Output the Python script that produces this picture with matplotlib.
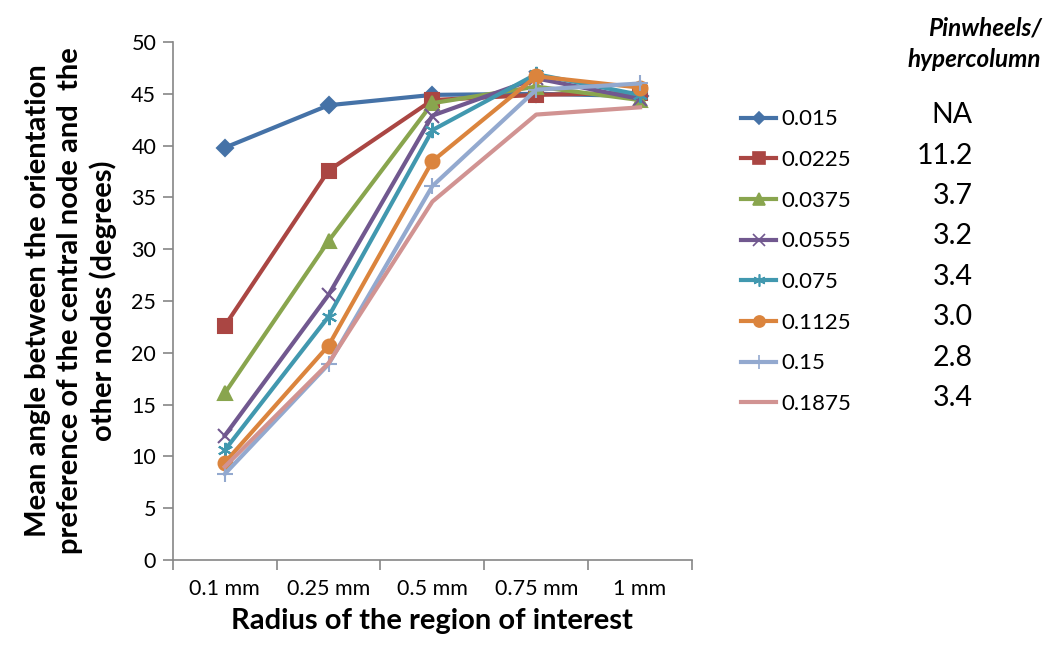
import matplotlib
matplotlib.use("Agg")
import matplotlib.pyplot as plt
from matplotlib.lines import Line2D

plt.rcParams["font.family"] = ["Lato", "DejaVu Sans"]

categories = ["0.1 mm", "0.25 mm", "0.5 mm", "0.75 mm", "1 mm"]
series_labels = ["0.015", "0.0225", "0.0375", "0.0555", "0.075", "0.1125", "0.15", "0.1875"]
pinwheels = ["NA", "11.2", "3.7", "3.2", "3.4", "3.0", "2.8", "3.4"]

s_0015 = [39.8, 43.9, 44.9, 45.0, 44.8]
s_00225 = [22.6, 37.6, 44.4, 44.9, 45.1]
s_00375 = [16.1, 30.8, 44.1, 45.7, 44.4]
s_00555 = [12.0, 25.6, 42.9, 46.5, 44.5]
s_0075 = [10.6, 23.5, 41.5, 46.9, 44.9]
s_01125 = [9.4, 20.7, 38.5, 46.7, 45.6]
s_015 = [8.3, 18.9, 36.1, 45.4, 46.0]
s_01875 = [9.0, 19.0, 34.6, 43.0, 43.7]

series = [s_0015, s_00225, s_00375, s_00555, s_0075, s_01125, s_015, s_01875]
colors = ["#4572A7", "#AA4643", "#89A54E", "#71588F", "#4198AF", "#DB843D", "#93A9CF", "#D19392"]
markers = ["D", "s", "^", "x", (6, 2, 0), "o", "+", None]
msizes = [8, 10, 10, 10, 11, 10, 12, 0]

fig = plt.figure(figsize=(10.54, 6.47), dpi=100)
ax = fig.add_axes([0.164, 0.1345, 0.4925, 0.8005])

x = list(range(len(categories)))
handles = []
for vals, lab, c, m, ms in zip(series, series_labels, colors, markers, msizes):
    ax.plot(x, vals, color=c, lw=3, marker=m, markersize=ms,
            markeredgewidth=1.5, markeredgecolor=c, markerfacecolor=c, label=lab)
    handles.append(Line2D([0], [0], color=c, lw=3, marker=m, markersize=ms * 0.8,
                          markeredgewidth=1.2, markeredgecolor=c, markerfacecolor=c))

ax.set_xlim(-0.5, len(categories) - 0.5)
ax.set_ylim(0, 50)
ax.set_yticks(range(0, 51, 5))
ax.set_xticks(x)
ax.set_xticklabels(categories)
ax.set_xticks([i - 0.5 for i in range(len(categories) + 1)], minor=True)
ax.tick_params(axis="x", which="major", length=0, pad=14, labelsize=15.5)
ax.tick_params(axis="x", which="minor", length=7, color="#868686", width=1.2)
ax.tick_params(axis="y", which="major", length=7, color="#868686", width=1.2, labelsize=15.5, pad=5)
for side in ["top", "right"]:
    ax.spines[side].set_visible(False)
for side in ["left", "bottom"]:
    ax.spines[side].set_color("#868686")
    ax.spines[side].set_linewidth(1.2)

ax.set_xlabel("Radius of the region of interest", fontsize=21, fontweight="bold", labelpad=6)
ax.set_ylabel("Mean angle between the orientation\npreference of the central node and  the\nother nodes (degrees)",
              fontsize=21, fontweight="bold", labelpad=10, linespacing=1.3)

fig.legend(handles, series_labels, loc="upper left", bbox_to_anchor=(0.684, 0.862),
           frameon=False, fontsize=16, handlelength=1.6, handletextpad=0.2,
           labelspacing=0.93)

fig.text(0.988, 0.975, "Pinwheels/\nhypercolumn", ha="right", va="top", fontsize=17.5,
         fontweight="bold", style="italic", linespacing=1.45)
y0 = 0.822
for i, p in enumerate(pinwheels):
    fig.text(0.923, y0 - i * 0.0625, p, ha="right", va="center", fontsize=20.5)

fig.savefig("out.png", dpi=100)
